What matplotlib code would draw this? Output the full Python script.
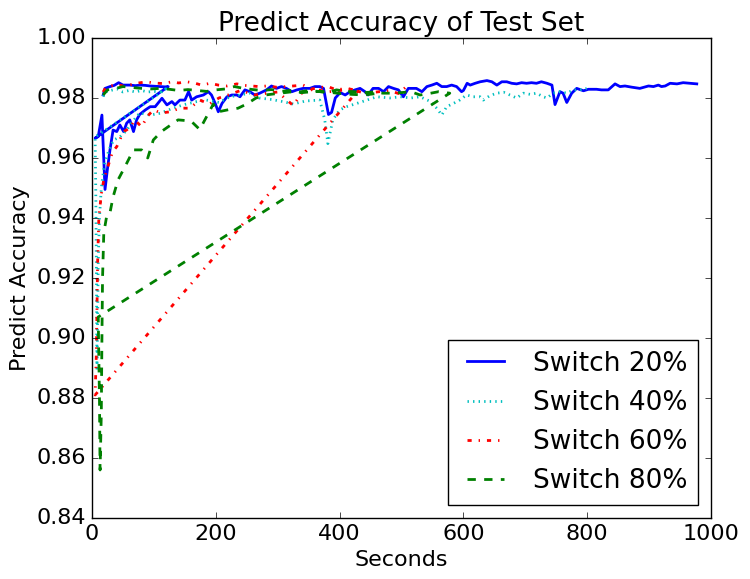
import matplotlib
matplotlib.use('Agg')
from matplotlib import pyplot as plt

# each series is two runs: a short one along the top, then the slow one
# (plotted as one line, so the jump back from the first run shows as a diagonal)
blue_top_x = [18, 21, 29, 36, 43, 50, 61, 70, 78, 86, 94, 102, 110, 118, 123]
blue_top_y = [0.9810, 0.9832, 0.9838, 0.9842, 0.9851, 0.9843, 0.9843, 0.9841, 0.9843, 0.9842,
              0.9840, 0.9839, 0.9838, 0.9837, 0.9838]
blue_low_x = [5, 10, 16, 21, 25, 29, 34, 40, 45, 51, 56, 61, 67, 72, 77, 86, 94, 102, 113, 121,
              129, 134, 142, 150, 156, 161, 169, 180, 188, 193, 199, 204, 210, 218, 226, 234, 239,
              247, 255, 263, 271, 282, 290, 298, 306, 314, 323, 331, 341, 352, 360, 368, 374, 382,
              387, 393, 401, 409, 417, 425, 433, 441, 446, 454, 463, 471, 479, 487, 495, 503, 511,
              524, 533, 541, 549, 557, 565, 573, 581, 589, 597, 600, 606, 611, 619, 627, 638, 646,
              654, 662, 670, 678, 686, 694, 702, 710, 718, 726, 735, 743, 748, 756, 761, 767, 775,
              783, 794, 802, 815, 823, 834, 845, 853, 861, 872, 885, 899, 907, 915, 920, 926, 934,
              945, 955, 966, 977]
blue_low_y = [0.9666, 0.9671, 0.9743, 0.9495, 0.9565, 0.9627, 0.9693, 0.9688, 0.9710, 0.9688,
              0.9716, 0.9727, 0.9688, 0.9727, 0.9745, 0.9760, 0.9771, 0.9771, 0.9799, 0.9777,
              0.9788, 0.9777, 0.9793, 0.9793, 0.9821, 0.9793, 0.9804, 0.9810, 0.9821, 0.9810,
              0.9782, 0.9754, 0.9782, 0.9804, 0.9810, 0.9810, 0.9804, 0.9827, 0.9821, 0.9810,
              0.9816, 0.9827, 0.9840, 0.9832, 0.9838, 0.9832, 0.9821, 0.9827, 0.9832, 0.9832,
              0.9838, 0.9838, 0.9832, 0.9745, 0.9752, 0.9800, 0.9818, 0.9810, 0.9821, 0.9827,
              0.9832, 0.9821, 0.9810, 0.9832, 0.9832, 0.9821, 0.9838, 0.9832, 0.9827, 0.9804,
              0.9832, 0.9832, 0.9821, 0.9838, 0.9843, 0.9849, 0.9838, 0.9838, 0.9843, 0.9838,
              0.9821, 0.9825, 0.9849, 0.9843, 0.9849, 0.9854, 0.9858, 0.9854, 0.9843, 0.9854,
              0.9854, 0.9849, 0.9847, 0.9851, 0.9849, 0.9851, 0.9849, 0.9854, 0.9849, 0.9843,
              0.9778, 0.9821, 0.9816, 0.9785, 0.9816, 0.9832, 0.9824, 0.9829, 0.9829, 0.9827,
              0.9827, 0.9847, 0.9838, 0.9840, 0.9836, 0.9832, 0.9840, 0.9838, 0.9843, 0.9838,
              0.9840, 0.9849, 0.9847, 0.9851, 0.9849, 0.9847]

cyan_top_x = [18, 22, 30, 40, 50, 60, 70, 80, 90, 100, 110, 123]
cyan_top_y = [0.9805, 0.9820, 0.9825, 0.9830, 0.9820, 0.9825, 0.9820, 0.9825, 0.9820, 0.9822,
              0.9820, 0.9835]
cyan_low_x = [5, 6, 7, 8, 9, 10, 12, 15, 20, 28, 35, 45, 55, 65, 77, 94, 110, 131, 147, 169, 185,
              205, 223, 239, 255, 270, 290, 308, 325, 345, 368, 376, 381, 389, 400, 411, 428, 444,
              460, 481, 498, 515, 530, 545, 557, 565, 573, 584, 594, 605, 616, 627, 632, 643, 654,
              665, 675, 686, 697, 708, 718, 729, 735, 745, 756, 767, 778, 788, 799]
cyan_low_y = [0.9670, 0.9500, 0.9250, 0.8890, 0.9050, 0.9250, 0.9400, 0.9500, 0.9580, 0.9630,
              0.9660, 0.9670, 0.9690, 0.9720, 0.9750, 0.9743, 0.9749, 0.9766, 0.9777, 0.9788,
              0.9793, 0.9785, 0.9804, 0.9810, 0.9816, 0.9800, 0.9795, 0.9788, 0.9780, 0.9790,
              0.9793, 0.9727, 0.9648, 0.9727, 0.9760, 0.9771, 0.9782, 0.9793, 0.9804, 0.9800,
              0.9804, 0.9800, 0.9804, 0.9790, 0.9766, 0.9743, 0.9771, 0.9782, 0.9793, 0.9810,
              0.9804, 0.9804, 0.9793, 0.9808, 0.9816, 0.9819, 0.9810, 0.9800, 0.9816, 0.9812,
              0.9816, 0.9804, 0.9800, 0.9816, 0.9821, 0.9816, 0.9827, 0.9827, 0.9832]

red_top_x = [18, 22, 30, 40, 50, 60, 72, 88, 100, 115, 129, 140, 153, 165, 177, 191, 204, 218,
             234, 246, 258, 270, 282, 298, 314, 341, 355, 368, 381, 395, 410, 430]
red_top_y = [0.9820, 0.9835, 0.9840, 0.9845, 0.9840, 0.9843, 0.9849, 0.9854, 0.9850, 0.9848,
             0.9854, 0.9850, 0.9854, 0.9850, 0.9843, 0.9849, 0.9843, 0.9840, 0.9847, 0.9842,
             0.9840, 0.9838, 0.9840, 0.9836, 0.9838, 0.9843, 0.9830, 0.9835, 0.9838, 0.9827,
             0.9832, 0.9825]
red_low_x = [5, 7, 8, 9, 11, 15, 19, 27, 33, 40, 47, 53, 61, 69, 80, 90, 99, 112, 126, 142, 158,
             174, 190, 205, 220, 240, 263, 280, 300, 325, 340, 360, 380, 400, 420, 440, 460, 480,
             495, 508]
red_low_y = [0.8810, 0.8950, 0.9100, 0.9250, 0.9400, 0.9480, 0.9527, 0.9580, 0.9620, 0.9638,
             0.9670, 0.9690, 0.9700, 0.9727, 0.9704, 0.9740, 0.9760, 0.9750, 0.9754, 0.9766,
             0.9766, 0.9793, 0.9780, 0.9800, 0.9810, 0.9825, 0.9810, 0.9815, 0.9820, 0.9775,
             0.9820, 0.9830, 0.9820, 0.9825, 0.9830, 0.9815, 0.9820, 0.9825, 0.9815, 0.9838]

green_top_x = [18, 25, 35, 50, 65, 80, 95, 110, 125, 140, 155, 170, 185, 200, 215, 230, 245, 260,
               275, 290, 305, 320, 335, 350, 365, 380, 395, 410, 425, 440, 455, 470, 485, 500,
               515, 530, 545, 560, 578]
green_top_y = [0.9810, 0.9827, 0.9830, 0.9838, 0.9835, 0.9832, 0.9830, 0.9832, 0.9829, 0.9825,
               0.9828, 0.9825, 0.9822, 0.9827, 0.9830, 0.9838, 0.9832, 0.9828, 0.9825, 0.9828,
               0.9822, 0.9825, 0.9820, 0.9825, 0.9822, 0.9818, 0.9827, 0.9822, 0.9821, 0.9818,
               0.9820, 0.9816, 0.9816, 0.9818, 0.9821, 0.9810, 0.9815, 0.9821, 0.9816]
green_low_x = [10, 12, 13, 15, 16, 17, 19, 24, 29, 34, 42, 53, 67, 80, 90, 99, 112, 123, 139, 150,
               161, 174, 188, 196, 204, 223, 236, 250, 265, 280, 300, 320, 340, 360, 380, 400,
               420, 440, 460]
green_low_y = [0.9070, 0.8800, 0.8560, 0.8750, 0.9000, 0.9200, 0.9350, 0.9410, 0.9417, 0.9470,
               0.9527, 0.9570, 0.9627, 0.9627, 0.9600, 0.9660, 0.9688, 0.9704, 0.9727, 0.9725,
               0.9721, 0.9695, 0.9749, 0.9780, 0.9754, 0.9762, 0.9766, 0.9780, 0.9800, 0.9810,
               0.9815, 0.9820, 0.9818, 0.9822, 0.9820, 0.9815, 0.9812, 0.9810, 0.9815]

labels = ['Switch 20%', 'Switch 40%', 'Switch 60%', 'Switch 80%']


def main():
    plt.style.use('classic')
    plt.rcParams['figure.facecolor'] = 'white'
    plt.rcParams['savefig.facecolor'] = 'white'

    fig = plt.figure(figsize=(7.5, 5.79), dpi=100)
    ax = fig.add_axes([0.1227, 0.1054, 0.8253, 0.829])

    ax.plot(blue_top_x + blue_low_x, blue_top_y + blue_low_y, 'b-', lw=2, label=labels[0])
    ax.plot(cyan_top_x + cyan_low_x, cyan_top_y + cyan_low_y, 'c:', lw=2, label=labels[1])
    ax.plot(red_top_x + red_low_x, red_top_y + red_low_y, 'r-.', lw=2, label=labels[2])
    ax.plot(green_top_x + green_low_x, green_top_y + green_low_y, 'g--', lw=2, label=labels[3])

    ax.set_xlim(0, 1000)
    ax.set_ylim(0.84, 1.00)
    ax.set_title('Predict Accuracy of Test Set', fontsize=19)
    ax.set_xlabel('Seconds', fontsize=16)
    ax.set_ylabel('Predict Accuracy', fontsize=16)
    ax.tick_params(labelsize=16)
    ax.legend(loc='lower right', fontsize=19)

    fig.savefig('out.png', dpi=100)


if __name__ == '__main__':
    main()
